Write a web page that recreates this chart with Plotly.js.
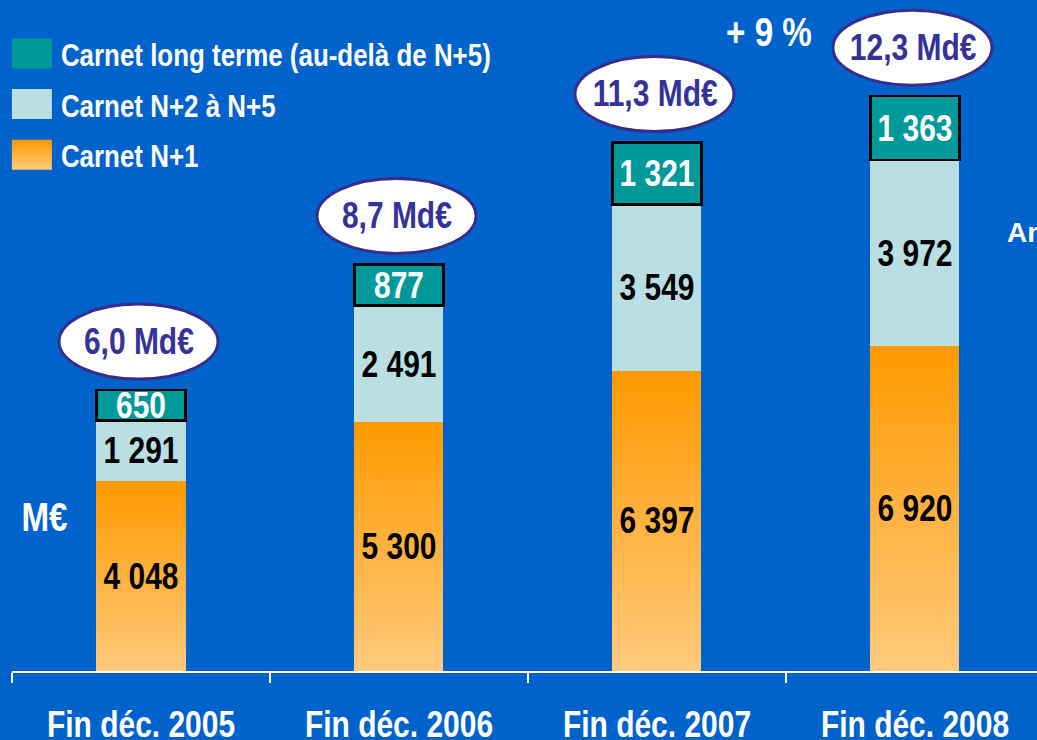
<!DOCTYPE html>
<html>
<head>
<meta charset="utf-8">
<script src="https://cdn.plot.ly/plotly-3.0.1.min.js"></script>
<style>
  html, body { margin: 0; padding: 0; background: #0063CB; }
  #chart { width: 1037px; height: 740px; }
</style>
</head>
<body>
<div id="chart"></div>
<script>
// ── Data ─────────────────────────────────────────────────────────────────────
const categories = ['Fin déc. 2005', 'Fin déc. 2006', 'Fin déc. 2007', 'Fin déc. 2008'];
const carnetN1   = [4048, 5300, 6397, 6920];
const carnetN2N5 = [1291, 2491, 3549, 3972];
const carnetLong = [650, 877, 1321, 1363];
const seriesNames = ['Carnet N+1', 'Carnet N+2 à N+5', 'Carnet long terme (au-delà de N+5)'];
const growthLabel = '+ 9 %';
const unitLabel = 'M€';
const sideLabel = 'An';

const totals = categories.map((c, i) => carnetN1[i] + carnetN2N5[i] + carnetLong[i]);

// ── Styling ──────────────────────────────────────────────────────────────────
const BG = '#0063CB';
const SANS = 'Liberation Sans, Arial, sans-serif';
const SQUEEZE = 0.81;      // no narrow face installed: squeeze glyphs instead
const BAR_W = 0.345;

// "1 291" style thousands
function fmt(v) {
  return String(v).replace(/\B(?=(\d{3})+(?!\d))/g, ' ');
}
function mdLabel(t) {
  return (t / 1000).toFixed(1).replace('.', ',') + ' Md€';
}

function barTrace(name, vals, color, textColor, rank, line) {
  return {
    type: 'bar',
    name: name,
    x: categories,
    y: vals,
    width: BAR_W,
    text: vals.map(fmt),
    textposition: 'inside',
    insidetextanchor: 'middle',
    constraintext: 'none',
    textangle: 0,
    textfont: { family: SANS, size: 37, color: textColor, weight: 'bold' },
    marker: { color: color, line: line || { width: 0 } },
    hoverinfo: 'skip',
    legendgroup: name,
    legendrank: rank
  };
}

// stacked bottom → top; legend reads top → bottom
const traces = [
  barTrace(seriesNames[0], carnetN1, '#FFAA33', '#000000', 3),
  barTrace(seriesNames[1], carnetN2N5, '#BADFE3', '#000000', 2),
  barTrace(seriesNames[2], carnetLong, '#009999', '#FFFFFF', 1, { width: 2.5, color: '#000000' })
];

// ── Ellipse call-outs above each bar ─────────────────────────────────────────
const shapes = categories.map((c, i) => ({
  type: 'circle',
  xref: 'x', yref: 'y',
  xsizemode: 'pixel', ysizemode: 'pixel',
  xanchor: c, yanchor: totals[i],
  x0: -82, x1: 77, y0: 11, y1: 86,
  fillcolor: '#FFFFFF',
  line: { color: '#362E8E', width: 3 }
}));

const annotations = categories.map((c, i) => ({
  x: c, y: totals[i], xref: 'x', yref: 'y',
  yshift: 49, xshift: -2,
  text: mdLabel(totals[i]),
  showarrow: false,
  font: { family: SANS, size: 37, color: '#333399', weight: 'bold' }
}));

annotations.push(
  { xref: 'paper', yref: 'paper', x: 0.7385, y: 0.952, text: growthLabel, showarrow: false,
    xanchor: 'center', yanchor: 'middle',
    font: { family: SANS, size: 41, color: '#FFFFFF', weight: 'bold' } },
  { xref: 'paper', yref: 'paper', x: 0.032, y: 0.2295, text: unitLabel, showarrow: false,
    xanchor: 'center', yanchor: 'middle',
    font: { family: SANS, size: 41, color: '#FFFFFF', weight: 'bold' } },
  { xref: 'paper', yref: 'paper', x: 0.9687, y: 0.654, text: sideLabel, showarrow: false,
    xanchor: 'left', yanchor: 'middle',
    font: { family: SANS, size: 28, color: '#FFFFFF', weight: 'bold' } }
);

const layout = {
  width: 1037, height: 740,
  paper_bgcolor: BG,
  plot_bgcolor: BG,
  margin: { l: 12, r: 0, t: 0, b: 69 },
  barmode: 'stack',
  showlegend: true,
  legend: {
    x: -0.005, y: 0.961, xanchor: 'left', yanchor: 'top',
    traceorder: 'grouped',
    tracegroupgap: 6,
    itemwidth: 44,
    bgcolor: 'rgba(0,0,0,0)',
    font: { family: SANS, size: 32, color: '#FFFFFF', weight: 'bold' },
    itemclick: false, itemdoubleclick: false
  },
  xaxis: {
    type: 'category',
    range: [-0.5, 3.473],
    showline: true, linecolor: '#FFFFFF', linewidth: 2,
    ticks: 'outside', tickson: 'boundaries', ticklen: 10, tickwidth: 2, tickcolor: '#FFFFFF',
    ticklabelstandoff: 20,
    tickfont: { family: SANS, size: 37, color: '#FFFFFF', weight: 'bold' },
    showgrid: false, zeroline: false, fixedrange: true
  },
  yaxis: {
    range: [0, 14307],
    visible: false, fixedrange: true
  },
  shapes: shapes,
  annotations: annotations
};

// ── Gradient fill for N+1, big legend swatches, narrow lettering ─────────────
function decorate(gd) {
  const svg = gd.querySelector('svg.main-svg');
  const ns = 'http://www.w3.org/2000/svg';
  let defs = svg.querySelector('defs');
  if (!defs) { defs = document.createElementNS(ns, 'defs'); svg.insertBefore(defs, svg.firstChild); }
  const grad = document.createElementNS(ns, 'linearGradient');
  grad.setAttribute('id', 'orangeGrad');
  grad.setAttribute('x1', '0'); grad.setAttribute('y1', '0');
  grad.setAttribute('x2', '0'); grad.setAttribute('y2', '1');
  [['0', '#FF9900'], ['1', '#FFCA7C']].forEach(([o, c]) => {
    const s = document.createElementNS(ns, 'stop');
    s.setAttribute('offset', o);
    s.setAttribute('stop-color', c);
    grad.appendChild(s);
  });
  defs.appendChild(grad);

  const barTraces = gd.querySelectorAll('.barlayer .trace');
  barTraces[0].querySelectorAll('path').forEach(p => { p.style.fill = 'url(#orangeGrad)'; });

  gd.querySelectorAll('.legend .traces').forEach(t => {
    const label = t.querySelector('.legendtext').textContent;
    t.querySelectorAll('.legendpoints path').forEach(p => {
      p.setAttribute('d', 'M18,15H-22V-15H18Z');
      p.style.strokeWidth = '0';
      if (label === seriesNames[0]) p.style.fill = 'url(#orangeGrad)';
    });
  });

  // condense every bold label except the clipped side text
  gd.querySelectorAll('text').forEach(el => {
    if (el.textContent === sideLabel) return;
    const len = el.getComputedTextLength();
    if (!len) return;
    el.setAttribute('textLength', (len * SQUEEZE).toFixed(1));
    el.setAttribute('lengthAdjust', 'spacingAndGlyphs');
  });
}

Plotly.newPlot('chart', traces, layout, { displayModeBar: false, staticPlot: true })
  .then(decorate);
</script>
</body>
</html>
